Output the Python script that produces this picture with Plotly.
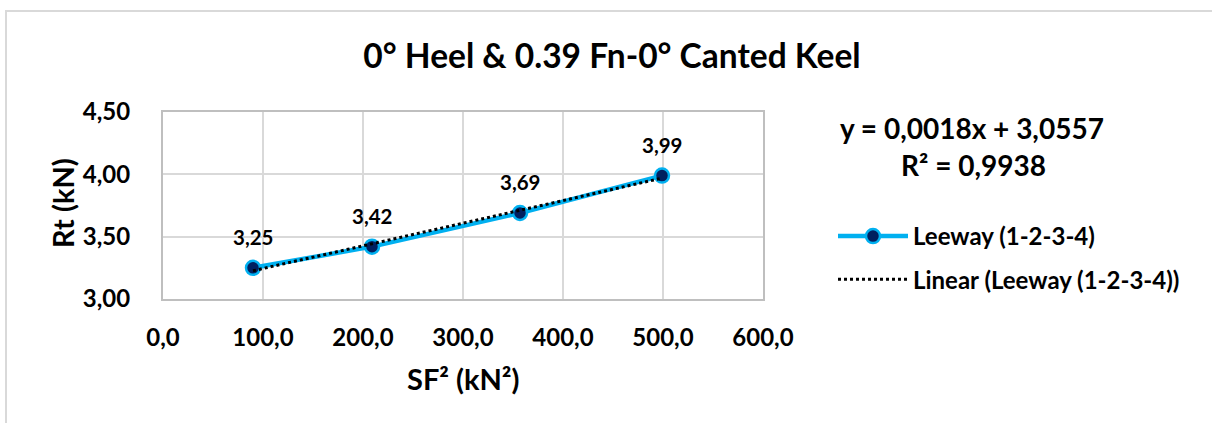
import numpy as np
import plotly.graph_objects as go

# Data
sf2 = [90.0, 209.0, 357.0, 499.0]
rt = [3.25, 3.42, 3.69, 3.99]
labels = ["3,25", "3,42", "3,69", "3,99"]
series_name = "Leeway (1-2-3-4)"
trend_name = "Linear (Leeway (1-2-3-4))"
equation_text = "y = 0,0018x + 3,0557"
r2_text = "R² = 0,9938"
title_text = "0° Heel & 0.39 Fn-0° Canted Keel"
x_title = "SF² (kN²)"
y_title = "Rt (kN)"

FONT = "Lato, 'Open Sans', sans-serif"
W, H = 1212, 423
L, R, T, B = 163, 449, 112, 124
PW, PH = W - L - R, H - T - B

def px(xp):
    return (xp - L) / PW

def py(yp):
    return (H - B - yp) / PH

# Linear trendline (least squares of the series)
coef = np.polyfit(sf2, rt, 1)
trend_x = [sf2[0], sf2[-1]]
trend_y = [coef[0] * v + coef[1] for v in trend_x]

fig = go.Figure()
fig.add_trace(go.Scatter(
    x=sf2, y=rt, mode="lines+markers", name=f"<b>{series_name}</b>",
    line=dict(color="#00B0F0", width=4.5),
    marker=dict(size=14, color="#002060", line=dict(color="#00B0F0", width=2.5)),
    legendgroup="a",
))
fig.add_trace(go.Scatter(
    x=trend_x, y=trend_y, mode="lines", name=f"<b>{trend_name}</b>",
    line=dict(color="#000000", width=3, dash="dot"),
    legendgroup="b",
))

annotations = []
for xv, yv, t in zip(sf2, rt, labels):
    annotations.append(dict(x=xv, y=yv, xref="x", yref="y", text=f"<b>{t}</b>",
                            showarrow=False, yshift=31,
                            font=dict(family=FONT, size=20.5, color="#000")))

annotations += [
    dict(x=px(972), y=py(128), xref="paper", yref="paper", text=f"<b>{equation_text}</b>",
         showarrow=False, xanchor="center", yanchor="middle",
         font=dict(family=FONT, size=28, color="#000")),
    dict(x=px(973), y=py(165), xref="paper", yref="paper", text=f"<b>{r2_text}</b>",
         showarrow=False, xanchor="center", yanchor="middle",
         font=dict(family=FONT, size=28, color="#000")),
    dict(x=px(463), y=py(378), xref="paper", yref="paper", text=f"<b>{x_title}</b>",
         showarrow=False, xanchor="center", yanchor="middle",
         font=dict(family=FONT, size=29, color="#000")),
    dict(x=px(62), y=py(203), xref="paper", yref="paper", text=f"<b>{y_title}</b>",
         showarrow=False, xanchor="center", yanchor="middle", textangle=-90,
         font=dict(family=FONT, size=29, color="#000")),
]

fig.update_layout(
    width=W, height=H,
    margin=dict(l=L, r=R, t=T, b=B, pad=0),
    paper_bgcolor="white", plot_bgcolor="white",
    separators=",.",
    title=dict(text=f"<b>{title_text}</b>", x=612 / W, xref="container", xanchor="center",
               y=1 - 56 / H, yref="container", yanchor="middle",
               font=dict(family=FONT, size=33.5, color="#000")),
    showlegend=True,
    legend=dict(x=px(833), y=py(214), xanchor="left", yanchor="top",
                font=dict(family=FONT, size=24, color="#000"),
                tracegroupgap=9, itemwidth=70, bgcolor="rgba(0,0,0,0)"),
    annotations=annotations,
    shapes=[dict(type="rect", xref="paper", yref="paper",
                 x0=px(6), x1=px(1220), y0=py(430), y1=py(11),
                 line=dict(color="#d9d9d9", width=2), fillcolor="rgba(0,0,0,0)",
                 layer="below")],
)

fig.update_xaxes(range=[0, 600], dtick=100, tick0=0, tickformat=".1f",
                 showgrid=True, gridcolor="#d9d9d9", gridwidth=1.5,
                 showline=True, linecolor="#bfbfbf", linewidth=2, mirror=True,
                 zeroline=False, ticks="", ticklabelstandoff=16,
                 tickfont=dict(family=FONT, size=24, color="#000", weight="bold"))
fig.update_yaxes(range=[3.0, 4.5], dtick=0.5, tick0=3.0, tickformat=".2f",
                 showgrid=True, gridcolor="#d9d9d9", gridwidth=1.5,
                 showline=True, linecolor="#bfbfbf", linewidth=2, mirror=True,
                 zeroline=False, ticks="", ticklabelstandoff=26,
                 tickfont=dict(family=FONT, size=24, color="#000", weight="bold"))

fig.write_html("out.html", config={"displayModeBar": False},
               post_script="document.body.style.margin='0';document.body.style.overflow='hidden';")
